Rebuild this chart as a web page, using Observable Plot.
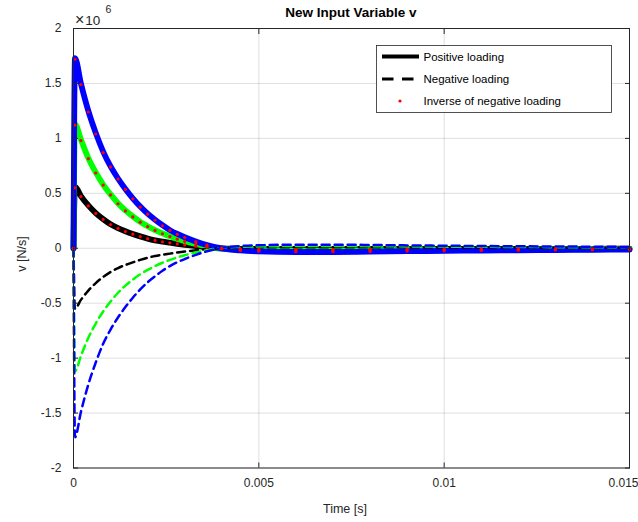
<!DOCTYPE html>
<html><head><meta charset="utf-8">
<script src="https://cdn.jsdelivr.net/npm/d3@7"></script>
<script src="https://cdn.jsdelivr.net/npm/@observablehq/plot@0.6"></script>
<style>
body{margin:0;background:#fff}
#chart{position:relative;width:638px;height:522px}
</style>
</head><body><div id="chart"></div>
<script>
// Time samples in milliseconds
const timeMs = [0, 0.04, 0.2, 0.4, 0.6, 0.8, 1.0, 1.2, 1.4, 1.6, 1.8, 2.0, 2.2, 2.4, 2.6, 2.8, 3.0, 3.3, 3.6, 4.0, 4.5, 5, 6, 7, 8, 9, 10, 11, 12, 13, 14, 15];
// v in units of 10^6 N/s — positive loading
const blackPos = [0, 0.56, 0.475, 0.39, 0.32, 0.265, 0.218, 0.183, 0.155, 0.13, 0.108, 0.088, 0.072, 0.06, 0.05, 0.04, 0.031, 0.02, 0.009, -0.002, -0.006, -0.008, -0.01, -0.01, -0.009, -0.008, -0.007, -0.006, -0.006, -0.005, -0.005, -0.004];
const greenPos = [0, 1.13, 0.99, 0.82, 0.69, 0.58, 0.49, 0.41, 0.345, 0.29, 0.24, 0.2, 0.165, 0.135, 0.108, 0.085, 0.065, 0.04, 0.018, -0.003, -0.012, -0.017, -0.021, -0.021, -0.019, -0.017, -0.015, -0.013, -0.012, -0.011, -0.009, -0.008];
const bluePos = [0, 1.73, 1.50, 1.25, 1.05, 0.88, 0.745, 0.635, 0.54, 0.455, 0.38, 0.315, 0.26, 0.21, 0.165, 0.13, 0.10, 0.062, 0.03, -0.002, -0.02, -0.028, -0.034, -0.034, -0.031, -0.027, -0.024, -0.021, -0.018, -0.016, -0.014, -0.012];
// negative loading
const blackNeg = [0, -0.55, -0.47, -0.385, -0.317, -0.262, -0.216, -0.18, -0.152, -0.128, -0.106, -0.087, -0.071, -0.059, -0.049, -0.039, -0.03, -0.019, -0.008, 0.002, 0.006, 0.008, 0.01, 0.01, 0.009, 0.008, 0.007, 0.006, 0.006, 0.005, 0.005, 0.004];
const greenNeg = [0, -1.12, -0.98, -0.815, -0.685, -0.575, -0.485, -0.405, -0.34, -0.285, -0.237, -0.197, -0.162, -0.132, -0.106, -0.083, -0.063, -0.039, -0.017, 0.003, 0.012, 0.017, 0.02, 0.02, 0.019, 0.017, 0.015, 0.013, 0.012, 0.01, 0.009, 0.008];
const blueNeg = [0, -1.72, -1.49, -1.24, -1.04, -0.87, -0.74, -0.63, -0.535, -0.45, -0.375, -0.31, -0.255, -0.205, -0.162, -0.127, -0.098, -0.06, -0.028, 0.003, 0.02, 0.027, 0.032, 0.032, 0.03, 0.026, 0.023, 0.02, 0.018, 0.016, 0.014, 0.012];

const seriesNames = ["black", "green", "blue"];
const seriesColors = ["#000000", "#00ff00", "#0000ff"];
const xTicks = [0, 0.005, 0.01, 0.015];
const yTicks = [-2, -1.5, -1, -0.5, 0, 0.5, 1, 1.5, 2];
const legendLabels = ["Positive loading", "Negative loading", "Inverse of negative loading"];
const titleText = "New Input Variable v";
const xLabel = "Time [s]";
const yLabel = "v [N/s]";

const posValues = [blackPos, greenPos, bluePos];
const negValues = [blackNeg, greenNeg, blueNeg];
const posRows = seriesNames.flatMap((s, i) => timeMs.map((t, j) => ({t: t / 1000, v: posValues[i][j], c: seriesColors[i], s})));
const negRows = seriesNames.flatMap((s, i) => timeMs.map((t, j) => ({t: t / 1000, v: negValues[i][j], c: seriesColors[i], s})));

const font = "'Liberation Sans', Arial, sans-serif";
const ink = "#262626";

const svg = Plot.plot({
  width: 638, height: 522,
  marginLeft: 73, marginRight: 9, marginTop: 28, marginBottom: 54.5,
  x: {domain: [0, 0.015]},
  y: {domain: [-2, 2]},
  color: {type: "identity"},
  style: {fontFamily: font, fontSize: "12px", color: ink, background: "white", overflow: "visible"},
  marks: [
    Plot.gridX(xTicks, {stroke: ink, strokeOpacity: 0.15}),
    Plot.gridY(yTicks, {stroke: ink, strokeOpacity: 0.15}),
    Plot.line(posRows, {x: "t", y: "v", z: "s", stroke: "c", strokeWidth: 5.8, curve: "monotone-x"}),
    Plot.line(negRows, {x: "t", y: "v", z: "s", stroke: "c", strokeWidth: 2.5, strokeDasharray: "8,5", curve: "monotone-x"}),
    Plot.dot(negRows, {x: "t", y: d => -d.v, r: 1.6, fill: "#ff0000"}),
    Plot.frame({stroke: ink}),
    Plot.axisX(xTicks, {anchor: "bottom", tickSize: -5, tickPadding: 15, tickFormat: d => d === 0.015 ? "" : String(d), label: null}),
    Plot.axisX([0.015], {anchor: "bottom", tickSize: 0, tickPadding: 10, textAnchor: "end", dx: 9, tickFormat: d => String(d), label: null}),
    Plot.axisX(xTicks, {anchor: "top", tickSize: -5, tickFormat: () => "", label: null}),
    Plot.axisY(yTicks, {anchor: "left", tickSize: -5, tickPadding: 17, tickFormat: d => String(d), label: null}),
    Plot.axisY(yTicks, {anchor: "right", tickSize: -5, tickFormat: () => "", label: null})
  ]
});
document.getElementById("chart").appendChild(svg);

const s = d3.select(svg);
// title
s.append("text").attr("x", 351).attr("y", 17).attr("text-anchor", "middle")
  .attr("font-family", font).attr("font-size", 13.5).attr("font-weight", "bold").attr("fill", "#000").text(titleText);
// exponent
const ex = s.append("text").attr("x", 75).attr("y", 25).attr("text-anchor", "start").attr("font-family", font).attr("font-size", 13.5).attr("fill", ink);
ex.append("tspan").attr("font-size", 16).attr("font-weight", 300).text("\u00d7");
ex.append("tspan").attr("dx", 1).text("10");
ex.append("tspan").attr("dx", 5).attr("dy", -12).attr("font-size", 10.5).text("6");
// axis labels
s.append("text").attr("x", 345).attr("y", 513).attr("text-anchor", "middle")
  .attr("font-family", font).attr("font-size", 12.5).attr("fill", ink).text(xLabel);
s.append("text").attr("transform", "translate(26,254) rotate(-90)").attr("text-anchor", "middle")
  .attr("font-family", font).attr("font-size", 12.5).attr("fill", ink).text(yLabel);
// legend
const lg = s.append("g").attr("text-anchor", "start");
lg.append("rect").attr("x", 376.5).attr("y", 45.5).attr("width", 235).attr("height", 67)
  .attr("fill", "white").attr("stroke", ink).attr("stroke-width", 0.8);
const rowsY = [56.5, 79, 101];
lg.append("line").attr("x1", 382).attr("x2", 419).attr("y1", rowsY[0]).attr("y2", rowsY[0]).attr("stroke", "#000").attr("stroke-width", 4);
lg.append("line").attr("x1", 382).attr("x2", 419).attr("y1", rowsY[1]).attr("y2", rowsY[1]).attr("stroke", "#000").attr("stroke-width", 3).attr("stroke-dasharray", "11.5,8.5");
lg.append("circle").attr("cx", 400).attr("cy", rowsY[2]).attr("r", 1.6).attr("fill", "#ff0000");
legendLabels.forEach((t, i) => {
  lg.append("text").attr("x", 423.5).attr("y", rowsY[i]).attr("dy", "0.35em").attr("text-anchor", "start")
    .attr("font-family", font).attr("font-size", 11.5).attr("fill", "#000").text(t);
});
</script>
</body></html>
